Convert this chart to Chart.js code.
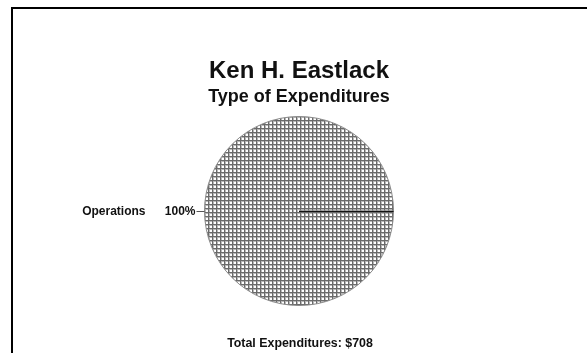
<!DOCTYPE html>
<html>
<head>
<meta charset="utf-8">
<script src="https://cdn.jsdelivr.net/npm/chart.js@4/dist/chart.umd.min.js"></script>
<style>
  html, body { margin: 0; padding: 0; background: #fff; }
  #wrap { width: 587px; height: 353px; position: relative; }
</style>
</head>
<body>
<div id="wrap"><canvas id="c" width="587" height="353"></canvas></div>
<script>
const titleText = 'Ken H. Eastlack';
const subtitleText = 'Type of Expenditures';
const categories = ['Operations'];
const values = [708];
const footerText = 'Total Expenditures: $708';

function makePattern() {
  const t = document.createElement('canvas');
  t.width = 4; t.height = 4;
  const g = t.getContext('2d');
  g.fillStyle = '#ffffff'; g.fillRect(0, 0, 4, 4);
  g.fillStyle = '#b8b8b8'; g.fillRect(1, 0, 1, 4); g.fillRect(0, 1, 4, 1);
  g.fillStyle = '#6a6a6a'; g.fillRect(0, 0, 1, 4); g.fillRect(0, 0, 4, 1);
  return g.createPattern(t, 'repeat');
}

const total = values.reduce((a, b) => a + b, 0);

const decor = {
  id: 'decor',
  beforeDraw(chart) {
    const ctx = chart.ctx;
    ctx.save();
    ctx.fillStyle = '#000';
    ctx.fillRect(11, 7, 576, 2);
    ctx.fillRect(11, 7, 2, 346);
    ctx.restore();
  },
  afterDatasetsDraw(chart) {
    const ctx = chart.ctx;
    const meta = chart.getDatasetMeta(0);
    ctx.save();
    meta.data.forEach((arc, i) => {
      const p = arc.getProps(['x', 'y', 'startAngle', 'endAngle', 'outerRadius'], true);
      ctx.strokeStyle = '#111';
      ctx.lineWidth = 1;
      ctx.beginPath();
      ctx.moveTo(p.x, p.y + 0.5);
      ctx.lineTo(p.x + Math.cos(p.startAngle) * p.outerRadius, p.y + 0.5 + Math.sin(p.startAngle) * p.outerRadius);
      ctx.stroke();
      const mid = (p.startAngle + p.endAngle) / 2;
      const r0 = p.outerRadius, r1 = p.outerRadius + 8;
      const x0 = p.x + Math.cos(mid) * r0, y0 = p.y + Math.sin(mid) * r0;
      const x1 = p.x + Math.cos(mid) * r1, y1 = p.y + Math.sin(mid) * r1;
      ctx.strokeStyle = '#555';
      ctx.beginPath();
      ctx.moveTo(x0, Math.round(y0) + 0.5);
      ctx.lineTo(x1, Math.round(y1) + 0.5);
      ctx.stroke();
      const pct = Math.round(values[i] / total * 100) + '%';
      ctx.fillStyle = '#111';
      ctx.font = 'bold 12px "Liberation Sans", Arial, sans-serif';
      ctx.textAlign = 'right';
      ctx.textBaseline = 'middle';
      ctx.fillText(pct, x1 - 1, y1 + 1);
      ctx.fillText(categories[i], x1 - 51, y1 + 1);
    });
    ctx.font = 'bold 12.4px "Liberation Sans", Arial, sans-serif';
    ctx.textAlign = 'center';
    ctx.textBaseline = 'middle';
    ctx.fillStyle = '#111';
    ctx.fillText(footerText, 300, 344);
    ctx.restore();
  }
};

new Chart(document.getElementById('c'), {
  type: 'pie',
  data: {
    labels: categories,
    datasets: [{
      data: values,
      backgroundColor: makePattern(),
      borderColor: '#8a8a8a',
      borderWidth: 1
    }]
  },
  options: {
    responsive: false,
    animation: false,
    rotation: 90,
    layout: { padding: { top: 0, bottom: 47, left: 100, right: 89 } },
    plugins: {
      legend: { display: false },
      tooltip: { enabled: false },
      title: {
        display: true,
        text: titleText,
        color: '#111',
        font: { family: '"Liberation Sans", Arial, sans-serif', size: 24, weight: 'bold' },
        padding: { top: 57, bottom: 0 }
      },
      subtitle: {
        display: true,
        text: subtitleText,
        color: '#111',
        font: { family: '"Liberation Sans", Arial, sans-serif', size: 18, weight: 'bold' },
        padding: { top: 0.8, bottom: 7.8 }
      }
    }
  },
  plugins: [decor]
});
</script>
</body>
</html>
